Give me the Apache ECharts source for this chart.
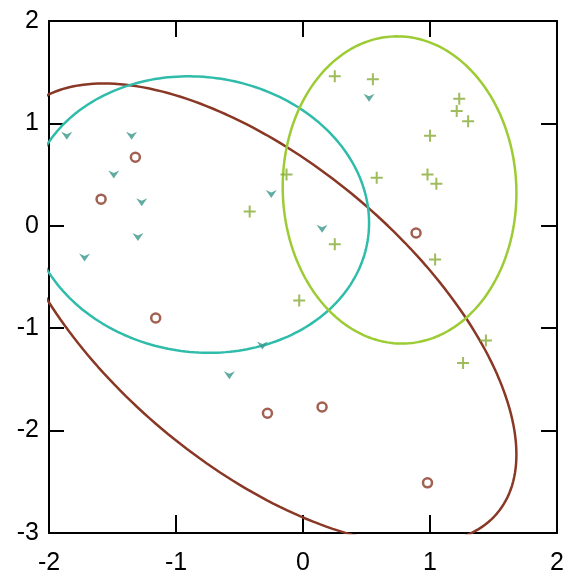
<!DOCTYPE html>
<html>
<head>
<meta charset="utf-8">
<script src="https://cdn.jsdelivr.net/npm/echarts@6/dist/echarts.min.js"></script>
<style>
  html, body { margin: 0; padding: 0; background: #fff; }
  #chart { width: 567px; height: 578px; }
</style>
</head>
<body>
<div id="chart"></div>
<script>
// Group A: hollow circles (brown)
const groupA = [
  [-1.32, 0.67], [-1.59, 0.26], [-1.16, -0.90], [-0.28, -1.83],
  [0.15, -1.77], [0.89, -0.07], [0.98, -2.51]
];
// Group B: down-pointing markers (teal)
const groupB = [
  [-1.86, 0.88], [-1.35, 0.88], [-1.49, 0.50], [-1.27, 0.23],
  [-1.30, -0.11], [-1.72, -0.31], [-0.25, 0.31], [0.52, 1.25],
  [0.15, -0.03], [-0.58, -1.46], [-0.32, -1.17]
];
// Group C: plus markers (yellow-green)
const groupC = [
  [0.25, 1.46], [0.55, 1.43], [1.23, 1.24], [1.21, 1.12],
  [1.30, 1.02], [1.00, 0.88], [0.58, 0.47], [0.98, 0.50],
  [1.05, 0.41], [-0.13, 0.50], [0.25, -0.18], [1.04, -0.33],
  [-0.42, 0.14], [-0.03, -0.73], [1.44, -1.12], [1.26, -1.34]
];
// Ellipse outlines: [centerX, centerY, spreadX, spreadY, correlation]
const ellipseA = [-0.34, -0.86, 2.02, 2.25, -0.61];
const ellipseB = [-0.82, 0.11, 1.34, 1.35, -0.06];
const ellipseC = [0.76, 0.35, 0.92, 1.50, -0.02];

const xTicks = [-2, -1, 0, 1, 2];
const yTicks = [-3, -2, -1, 0, 1, 2];

function outline(e) {
  const [cx, cy, sx, sy, r] = e;
  const pts = [];
  const n = 240;
  for (let i = 0; i <= n; i++) {
    const t = (i / n) * Math.PI * 2;
    pts.push([
      cx + sx * Math.cos(t),
      cy + sy * (r * Math.cos(t) + Math.sqrt(1 - r * r) * Math.sin(t))
    ]);
  }
  return pts;
}

const brown = '#8a3826';
const tealLine = '#30bcaa';
const tealMark = '#3a978b';
const greenLine = '#9ccb34';
const greenMark = '#86aa36';

const labelFont = { fontFamily: 'Liberation Sans, Arial, sans-serif', fontSize: 25, color: '#000' };

function xAxis(pos, showLabel, tickLen) {
  return {
    type: 'value', position: pos, min: -2, max: 2, interval: 1,
    axisLine: { show: true, onZero: false, lineStyle: { color: '#000', width: 2 } },
    axisTick: { show: true, inside: true, length: tickLen, lineStyle: { color: '#000', width: 2 } },
    axisLabel: Object.assign({ show: showLabel, margin: 18,
      formatter: v => xTicks.includes(v) ? String(v) : '' }, labelFont),
    splitLine: { show: false }
  };
}
function yAxis(pos, showLabel, tickLen) {
  return {
    type: 'value', position: pos, min: -3, max: 2, interval: 1,
    axisLine: { show: true, onZero: false, lineStyle: { color: '#000', width: 2 } },
    axisTick: { show: true, inside: true, length: tickLen, lineStyle: { color: '#000', width: 2 } },
    axisLabel: Object.assign({ show: showLabel, margin: 10,
      formatter: v => yTicks.includes(v) ? String(v) : '' }, labelFont),
    splitLine: { show: false }
  };
}

const chart = echarts.init(document.getElementById('chart'), null, { renderer: 'canvas' });
chart.setOption({
  backgroundColor: '#fff',
  animation: false,
  grid: { left: 49, top: 21, right: 5, bottom: 45 },
  xAxis: [xAxis('bottom', true, 18), xAxis('top', false, 16)],
  yAxis: [yAxis('left', true, 15), yAxis('right', false, 16)],
  series: [
    {
      type: 'line', data: outline(ellipseA), showSymbol: false, clip: true,
      lineStyle: { color: brown, width: 2.5 }, z: 2
    },
    {
      type: 'line', data: outline(ellipseB), showSymbol: false, clip: true,
      lineStyle: { color: tealLine, width: 2.5 }, z: 2
    },
    {
      type: 'line', data: outline(ellipseC), showSymbol: false, clip: true,
      lineStyle: { color: greenLine, width: 2.5 }, z: 2
    },
    {
      type: 'scatter', data: groupA, symbol: 'circle', symbolSize: 9,
      itemStyle: { color: 'rgba(0,0,0,0)', borderColor: brown, borderWidth: 2.5 }, z: 3
    },
    {
      type: 'scatter', data: groupB, symbol: 'path://M0,0 L5,2.5 L10,0 L5,8 Z', symbolSize: [11, 8],
      itemStyle: { color: tealMark }, z: 3
    },
    {
      type: 'scatter', data: groupC, symbol: 'path://M0,5 L10,5 M5,0 L5,10', symbolSize: 12,
      itemStyle: { color: 'rgba(0,0,0,0)', borderColor: greenMark, borderWidth: 2 }, z: 3
    }
  ]
});
</script>
</body>
</html>
